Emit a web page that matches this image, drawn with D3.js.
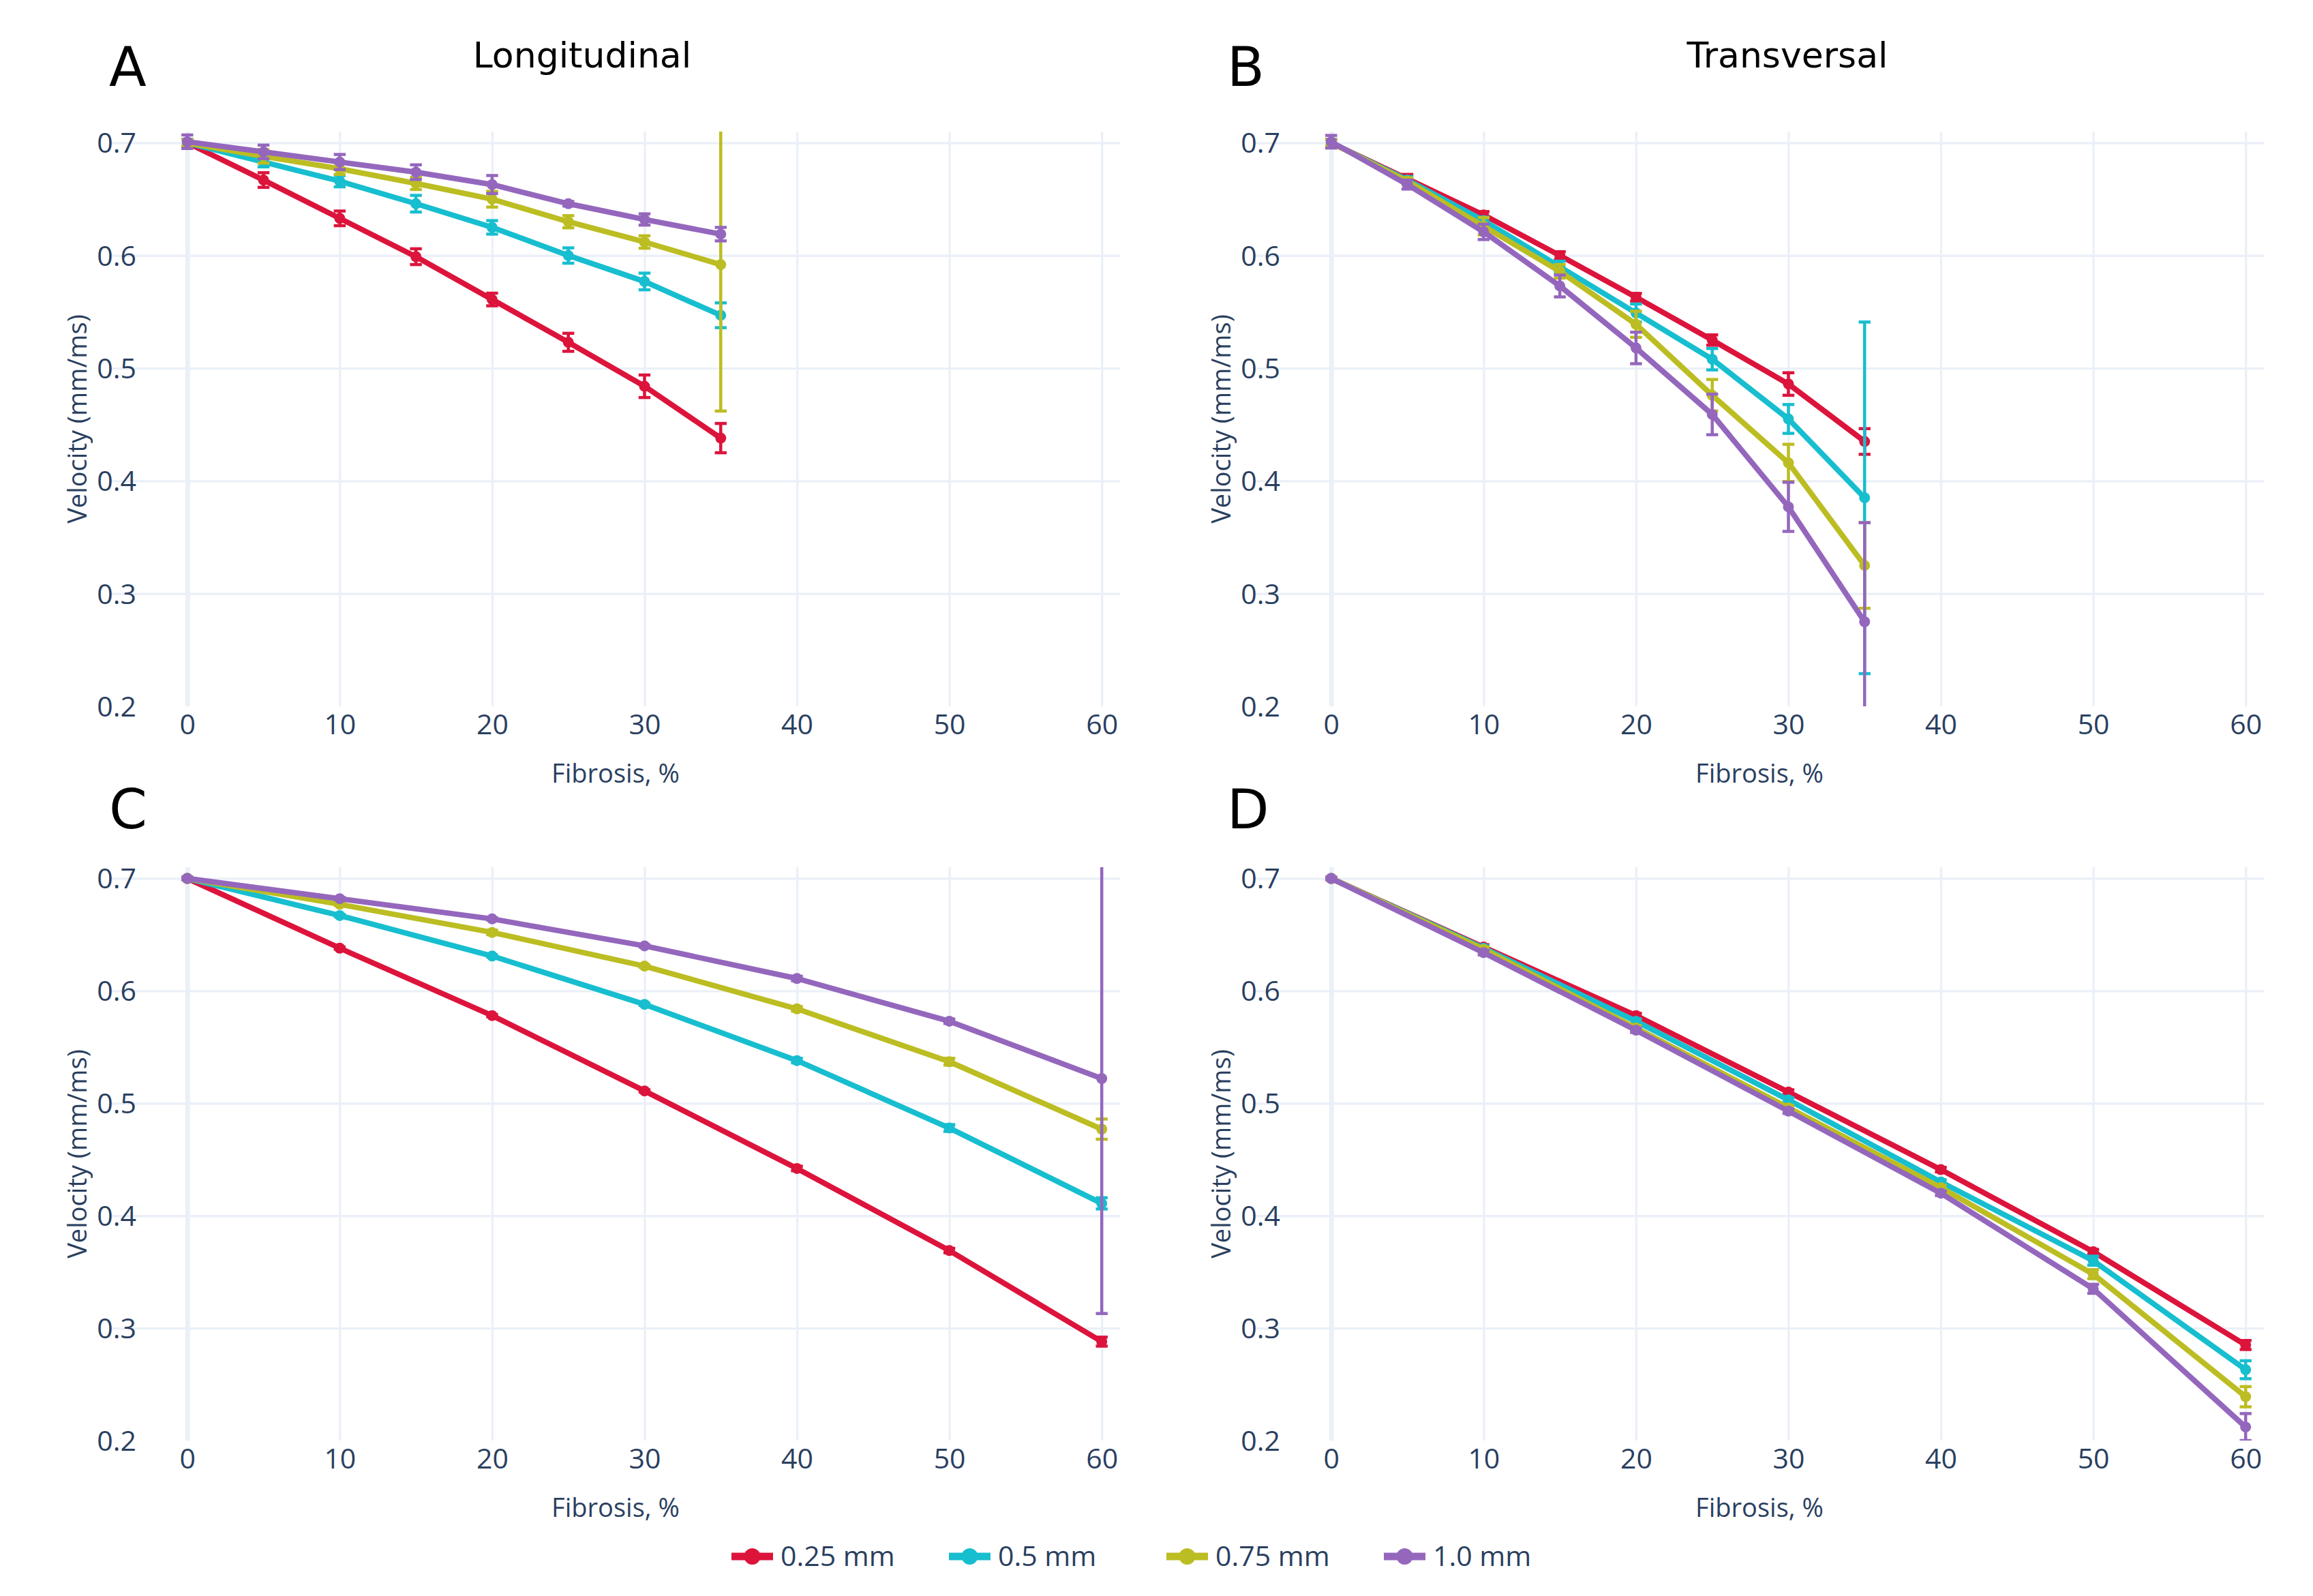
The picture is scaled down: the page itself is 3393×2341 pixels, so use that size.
<!DOCTYPE html>
<html>
<head>
<meta charset="utf-8">
<script src="https://cdn.jsdelivr.net/npm/d3@7"></script>
<style>
  body { margin: 0; background: #fff; }
  svg { display: block; }
</style>
</head>
<body>
<svg id="chart" width="3393" height="2341"></svg>
<script>
// ---- data ----
const seriesNames = ['0.25 mm', '0.5 mm', '0.75 mm', '1.0 mm'];
const fibrosisShort = [0, 5, 10, 15, 20, 25, 30, 35];
const fibrosisLong  = [0, 10, 20, 30, 40, 50, 60];
const xTicks = [0, 10, 20, 30, 40, 50, 60];
const yTicks = [0.2, 0.3, 0.4, 0.5, 0.6, 0.7];

// A: longitudinal (rows = 0.25, 0.5, 0.75, 1.0 mm)
const longitudinalMean = [
  [0.700, 0.667, 0.633, 0.599, 0.561, 0.523, 0.484, 0.438],
  [0.700, 0.683, 0.666, 0.646, 0.625, 0.600, 0.577, 0.547],
  [0.700, 0.688, 0.677, 0.664, 0.650, 0.630, 0.612, 0.592],
  [0.701, 0.692, 0.683, 0.674, 0.663, 0.646, 0.632, 0.619]
];
const longitudinalErr = [
  [0.003, 0.0065, 0.0065, 0.007, 0.0056, 0.008, 0.010, 0.013],
  [0.003, 0.0043, 0.005, 0.0074, 0.006, 0.0068, 0.0074, 0.011],
  [0.003, 0.006, 0.005, 0.0054, 0.007, 0.0054, 0.0055, 0.130],
  [0.006, 0.006, 0.0067, 0.0065, 0.008, 0.002, 0.005, 0.006]
];

// B: transversal
const transversalMean = [
  [0.700, 0.668, 0.636, 0.600, 0.563, 0.525, 0.486, 0.435],
  [0.700, 0.667, 0.631, 0.590, 0.549, 0.508, 0.455, 0.385],
  [0.700, 0.666, 0.626, 0.586, 0.539, 0.476, 0.416, 0.325],
  [0.701, 0.663, 0.621, 0.573, 0.518, 0.459, 0.377, 0.275]
];
const transversalErr = [
  [0.003, 0.004, 0.003, 0.0034, 0.0034, 0.0046, 0.010, 0.0114],
  [0.003, 0.003, 0.003, 0.005, 0.008, 0.0095, 0.0128, 0.156],
  [0.003, 0.003, 0.0077, 0.006, 0.0116, 0.014, 0.0165, 0.038],
  [0.0056, 0.004, 0.0068, 0.0097, 0.014, 0.018, 0.0218, 0.088]
];

// C
const panelCMean = [
  [0.700, 0.638, 0.578, 0.511, 0.442, 0.369, 0.288],
  [0.700, 0.667, 0.631, 0.588, 0.538, 0.478, 0.411],
  [0.700, 0.677, 0.652, 0.622, 0.584, 0.537, 0.477],
  [0.700, 0.682, 0.664, 0.640, 0.611, 0.573, 0.522]
];
const panelCErr = [
  [0.001, 0.001, 0.001, 0.001, 0.002, 0.002, 0.004],
  [0.001, 0.001, 0.001, 0.001, 0.002, 0.003, 0.005],
  [0.001, 0.001, 0.002, 0.001, 0.002, 0.003, 0.009],
  [0.001, 0.001, 0.001, 0.001, 0.002, 0.002, 0.209]
];

// D
const panelDMean = [
  [0.700, 0.639, 0.578, 0.510, 0.441, 0.368, 0.285],
  [0.700, 0.638, 0.573, 0.503, 0.430, 0.360, 0.263],
  [0.700, 0.637, 0.567, 0.496, 0.425, 0.348, 0.239],
  [0.700, 0.634, 0.565, 0.493, 0.420, 0.335, 0.212]
];
const panelDErr = [
  [0.001, 0.002, 0.002, 0.002, 0.002, 0.002, 0.004],
  [0.001, 0.002, 0.002, 0.002, 0.002, 0.004, 0.008],
  [0.001, 0.002, 0.002, 0.002, 0.002, 0.004, 0.009],
  [0.001, 0.002, 0.002, 0.002, 0.002, 0.004, 0.012]
];

// ---- styles ----
const colors    = ['#dc143c', '#17becf', '#bcbd22', '#9467bd'];
const gridColor = '#ebf0f8';
const textColor = '#2a3f5f';
const tickFont  = '"Open Sans", sans-serif';
const titleFont = '"DejaVu Sans", sans-serif';

const panels = [
  { letter: 'A', title: 'Longitudinal', titleX: 854,  x: fibrosisShort, mean: longitudinalMean, err: longitudinalErr,
    left: 163,  right: 1643, top: 193,  bottom: 1036, letterX: 160,  letterY: 126 },
  { letter: 'B', title: 'Transversal',  titleX: 2622, x: fibrosisShort, mean: transversalMean, err: transversalErr,
    left: 1841, right: 3321, top: 193,  bottom: 1036, letterX: 1800, letterY: 126 },
  { letter: 'C', title: null, x: fibrosisLong, mean: panelCMean, err: panelCErr,
    left: 163,  right: 1643, top: 1272, bottom: 2113, letterX: 160,  letterY: 1215 },
  { letter: 'D', title: null, x: fibrosisLong, mean: panelDMean, err: panelDErr,
    left: 1841, right: 3321, top: 1272, bottom: 2113, letterX: 1800, letterY: 1215 }
];

const svg = d3.select('#chart');
svg.append('rect').attr('width', 3393).attr('height', 2341).attr('fill', '#fff');

function drawPanel(p, idx) {
  let g = svg.append('g');

  let x = d3.scaleLinear().domain([-5, 61.2]).range([p.left, p.right]);
  let y = d3.scaleLinear().domain([0.2, 0.71]).range([p.bottom, p.top]);

  // horizontal grid + y tick labels
  let gy = g.append('g')
    .attr('transform', `translate(${p.left},0)`)
    .call(d3.axisLeft(y).tickValues(yTicks).tickFormat(d3.format('.1f'))
      .tickSize(-(p.right - p.left)).tickPadding(0));
  gy.select('.domain').remove();
  gy.selectAll('.tick line')
    .attr('stroke', gridColor).attr('stroke-width', 3.4)
    .attr('opacity', d => d === 0.2 ? 0 : 1);
  gy.selectAll('.tick text')
    .attr('x', 37).attr('dy', '0.35em').attr('text-anchor', 'end')
    .attr('fill', textColor).style('font-family', tickFont).style('font-size', '41px');

  // vertical grid + x tick labels (0 drawn as zero line)
  let gx = g.append('g')
    .attr('transform', `translate(0,${p.bottom})`)
    .call(d3.axisBottom(x).tickValues(xTicks).tickSize(-(p.bottom - p.top)).tickPadding(0));
  gx.select('.domain').remove();
  gx.selectAll('.tick line')
    .attr('stroke', gridColor).attr('stroke-width', d => d === 0 ? 6.8 : 3.4);
  gx.selectAll('.tick text')
    .attr('y', 41).attr('dy', null)
    .attr('fill', textColor).style('font-family', tickFont).style('font-size', '41px');

  // axis titles
  g.append('text')
    .attr('x', (p.left + p.right) / 2).attr('y', p.bottom + 112)
    .attr('text-anchor', 'middle').attr('fill', textColor)
    .style('font-family', tickFont).style('font-size', '38px')
    .text('Fibrosis, %');
  g.append('text')
    .attr('transform', `translate(${p.left - 36},${(p.top + p.bottom) / 2}) rotate(-90)`)
    .attr('text-anchor', 'middle').attr('fill', textColor)
    .style('font-family', tickFont).style('font-size', '38px')
    .text('Velocity (mm/ms)');

  // panel letter and title
  g.append('text')
    .attr('x', p.letterX).attr('y', p.letterY)
    .attr('fill', '#000').style('font-family', titleFont).style('font-size', '80px')
    .text(p.letter);
  if (p.title) {
    g.append('text')
      .attr('x', p.titleX).attr('y', 99).attr('text-anchor', 'middle')
      .attr('fill', '#000').style('font-family', titleFont).style('font-size', '52px')
      .text(p.title);
  }

  // traces, clipped to the plot area
  let clipId = 'clip' + idx;
  svg.append('clipPath').attr('id', clipId)
    .append('rect')
    .attr('x', p.left).attr('y', p.top)
    .attr('width', p.right - p.left).attr('height', p.bottom - p.top);

  let plot = g.append('g').attr('clip-path', `url(#${clipId})`);
  let line = d3.line().x(d => x(d.x)).y(d => y(d.m));

  p.mean.forEach((values, s) => {
    let pts = values.map((m, i) => ({ x: p.x[i], m: m, e: p.err[s][i] }));
    let trace = plot.append('g').attr('class', 'trace');

    trace.append('path')
      .datum(pts)
      .attr('d', line)
      .attr('fill', 'none')
      .attr('stroke', colors[s])
      .attr('stroke-width', 8)
      .attr('stroke-linejoin', 'round');

    let bars = trace.selectAll('.err').data(pts).enter().append('g').attr('class', 'err');
    bars.append('line')
      .attr('x1', d => x(d.x)).attr('x2', d => x(d.x))
      .attr('y1', d => y(d.m - d.e)).attr('y2', d => y(d.m + d.e))
      .attr('stroke', colors[s]).attr('stroke-width', 4.5);
    [-1, 1].forEach(sign => {
      bars.append('line')
        .attr('x1', d => x(d.x) - 8.7).attr('x2', d => x(d.x) + 8.7)
        .attr('y1', d => y(d.m + sign * d.e)).attr('y2', d => y(d.m + sign * d.e))
        .attr('stroke', colors[s]).attr('stroke-width', 4.5);
    });

    trace.selectAll('circle').data(pts).enter().append('circle')
      .attr('cx', d => x(d.x)).attr('cy', d => y(d.m))
      .attr('r', 8).attr('fill', colors[s]);
  });
}

panels.forEach(drawPanel);

// legend
let legend = svg.append('g').attr('transform', 'translate(1073,2283)');
let items = legend.selectAll('.item').data(seriesNames).enter().append('g')
  .attr('class', 'item')
  .attr('transform', (d, i) => `translate(${i * 319},0)`);
items.append('line')
  .attr('x1', 0).attr('x2', 61).attr('y1', 0).attr('y2', 0)
  .attr('stroke', (d, i) => colors[i]).attr('stroke-width', 11);
items.append('circle')
  .attr('cx', 30.5).attr('cy', 0).attr('r', 12)
  .attr('fill', (d, i) => colors[i]);
items.append('text')
  .attr('x', 72).attr('y', 14)
  .attr('fill', textColor).style('font-family', tickFont).style('font-size', '41px')
  .text(d => d);
</script>
</body>
</html>
